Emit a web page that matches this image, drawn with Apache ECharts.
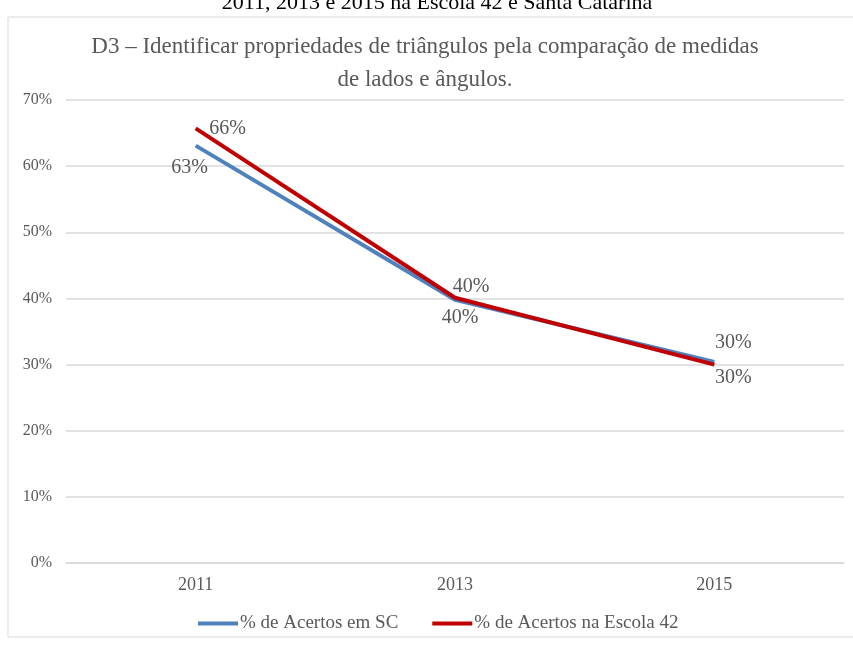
<!DOCTYPE html>
<html>
<head>
<meta charset="utf-8">
<script src="https://cdn.jsdelivr.net/npm/echarts@6/dist/echarts.min.js"></script>
<style>
  html, body { margin: 0; padding: 0; background: #fff; }
  #chart { width: 853px; height: 645px; }
</style>
</head>
<body>
<div id="chart"></div>
<script>
// D3 line chart: share of correct answers, SC vs Escola 42
const years = ['2011', '2013', '2015'];
const acertosSC = [63.1, 39.8, 30.4];
const acertosEscola = [65.7, 40.1, 30.0];
const seriesNames = ['% de Acertos em SC', '% de Acertos na Escola 42'];

const FONT = '"Liberation Serif", "DejaVu Serif", serif';
const GRAY = '#595959';

// per-point label placement relative to the point (Excel-style, by hand)
const scLabelPos = [[-6, 22], [5, 18], [19, -19]];
const escolaLabelPos = [[32, 0], [16, -11], [19, 13]];

const chart = echarts.init(document.getElementById('chart'), null, { renderer: 'canvas' });

function pct(p) { return Math.round(p.value) + '%'; }

function labelFor(pos) {
  return { position: pos, align: 'center', verticalAlign: 'middle' };
}

chart.setOption({
  backgroundColor: '#fff',
  animation: false,
  textStyle: { fontFamily: FONT },
  title: {
    text: 'D3 – Identificar propriedades de triângulos pela comparação de medidas\nde lados e ângulos.',
    left: 420,
    top: 25,
    textAlign: 'center',
    textStyle: { fontFamily: FONT, fontSize: 23, fontWeight: 'normal', color: GRAY, lineHeight: 33 },
  },
  graphic: [
    {
      type: 'text',
      x: 437,
      y: -8,
      style: {
        text: '2011, 2013 e 2015 na Escola 42 e Santa Catarina',
        font: '22px ' + FONT,
        fill: '#000',
        align: 'center',
      },
      z: 1,
    },
    {
      type: 'rect',
      shape: { x: 8, y: 17, width: 900, height: 620 },
      style: { fill: 'none', stroke: '#d9d9d9', lineWidth: 1 },
      z: 2,
    },
  ],
  grid: { left: 66, right: 9, top: 100, bottom: 82 },
  legend: {
    left: 193,
    top: 609,
    icon: 'rect',
    itemWidth: 40,
    itemHeight: 4,
    itemGap: 34,
    textStyle: { fontFamily: FONT, fontSize: 19, color: GRAY, padding: [0, 0, 0, -3] },
    data: seriesNames,
  },
  xAxis: {
    type: 'category',
    data: years,
    axisLine: { lineStyle: { color: '#d9d9d9', width: 1.5 } },
    axisTick: { show: false },
    axisLabel: { color: GRAY, fontSize: 18, fontFamily: FONT, margin: 13 },
  },
  yAxis: {
    type: 'value',
    min: 0,
    max: 70,
    interval: 10,
    axisLine: { show: false },
    axisTick: { show: false },
    axisLabel: { color: GRAY, fontSize: 16, fontFamily: FONT, margin: 14, formatter: (v) => v + '%' },
    splitLine: { lineStyle: { color: '#d9d9d9', width: 1.5 } },
  },
  series: [
    {
      name: seriesNames[0],
      type: 'line',
      symbol: 'circle',
      symbolSize: 0,
      showSymbol: true,
      lineStyle: { color: '#4f81bd', width: 4 },
      itemStyle: { color: '#4f81bd' },
      label: { show: true, formatter: pct, color: GRAY, fontSize: 20, fontFamily: FONT },
      labelLayout: { hideOverlap: false },
      data: acertosSC.map((v, i) => ({ value: v, label: labelFor(scLabelPos[i]) })),
    },
    {
      name: seriesNames[1],
      type: 'line',
      symbol: 'circle',
      symbolSize: 0,
      showSymbol: true,
      lineStyle: { color: '#c00000', width: 4 },
      itemStyle: { color: '#c00000' },
      label: { show: true, formatter: pct, color: GRAY, fontSize: 20, fontFamily: FONT },
      labelLayout: { hideOverlap: false },
      data: acertosEscola.map((v, i) => ({ value: v, label: labelFor(escolaLabelPos[i]) })),
    },
  ],
});
</script>
</body>
</html>
